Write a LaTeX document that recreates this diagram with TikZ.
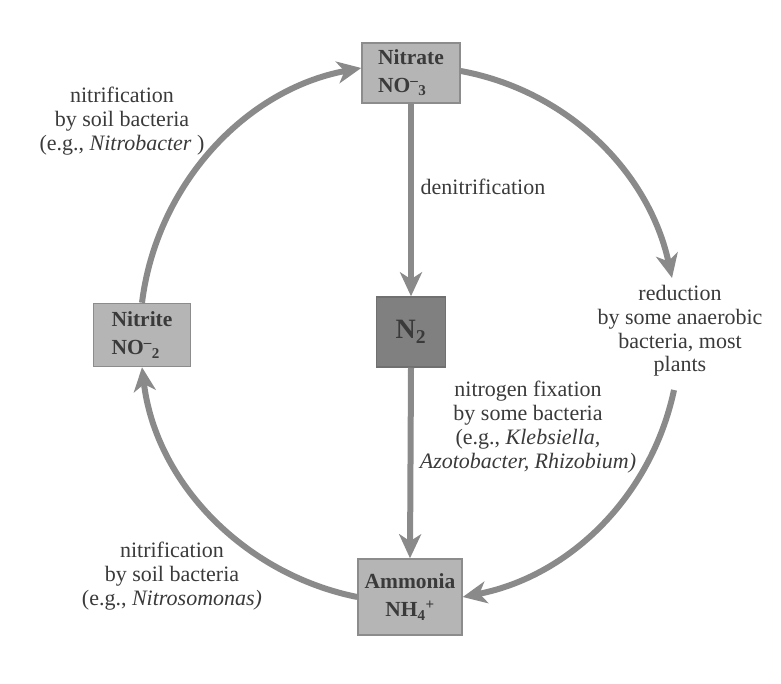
\documentclass[tikz,border=0pt]{standalone}
\usepackage{fontspec}
\setmainfont{Liberation Serif}
\usetikzlibrary{arrows.meta}
\definecolor{arrowgray}{HTML}{8A8A8A}
\definecolor{boxfill}{HTML}{B5B5B5}
\definecolor{boxline}{HTML}{8C8C8C}
\definecolor{darkfill}{HTML}{808080}
\definecolor{darkline}{HTML}{707070}
\definecolor{txt}{HTML}{3A3A3A}
\tikzset{
  lbl/.style={inner sep=0pt, align=center, text=txt, font=\fontsize{22}{23.8}\selectfont},
  cbox/.style={draw=boxline, line width=1.5pt, fill=boxfill, text=txt, inner sep=0pt,
    font=\fontsize{21.5}{28}\selectfont\bfseries},
  flow/.style={draw=arrowgray, line width=6pt, -{Stealth[length=24pt,width=22pt,inset=7pt]}},
}
\begin{document}
\begin{tikzpicture}[x=1pt,y=1pt]
\useasboundingbox (0,0) rectangle (781,683);
% boxes
\node[cbox, minimum width=98pt, minimum height=60pt, align=left] (nitrate) at (411,610) {Nitrate\\NO\textsuperscript{--}\textsubscript{3}};
\node[cbox, minimum width=97pt, minimum height=63pt, align=left] (nitrite) at (142,348) {Nitrite\\NO\textsuperscript{--}\textsubscript{2}};
\node[cbox, fill=darkfill, draw=darkline, minimum width=69pt, minimum height=70pt, font=\fontsize{28}{30}\selectfont\bfseries] (n2) at (411,351) {N\textsubscript{2}};
\node[cbox, minimum width=104pt, minimum height=76pt, align=center] (ammonia) at (410,86) {Ammonia\\NH\textsubscript{4}\textsuperscript{+}};
% free ends of the split right arc
\coordinate (r1) at (672,405);
\coordinate (r2) at (674,293);
% arcs
\draw[flow] (nitrite.north) to[out=83,in=190.5,looseness=0.94] ([yshift=5pt]nitrate.west);
\draw[flow] ([yshift=2pt]nitrate.east) to[out=-10.5,in=102.3,looseness=0.94] (r1);
\draw[flow] (r2) to[out=-102,in=11,looseness=0.94] (ammonia.east);
\draw[flow] (ammonia.west) to[out=168.6,in=-83.2,looseness=0.94] (nitrite.south);
% straight
\draw[flow] (nitrate.south) -- (n2.north);
\draw[flow] (n2.south) -- (ammonia.north);
% labels
\node[lbl] (l1) at (122,562) {nitrification\\by soil bacteria\\(e.g., \textit{Nitrobacter} )};
\node[lbl] (l2) at (172,107) {nitrification\\by soil bacteria\\(e.g., \textit{Nitrosomonas)}};
\node[lbl] (l3) at (680,352) {reduction\\by some anaerobic\\bacteria, most\\plants};
\node[lbl] (l4) at (483,496) {denitrification};
\node[lbl] (l5) at (528,256) {nitrogen fixation\\by some bacteria\\(e.g., \textit{Klebsiella,}\\\textit{Azotobacter, Rhizobium)}};
\end{tikzpicture}
\end{document}
